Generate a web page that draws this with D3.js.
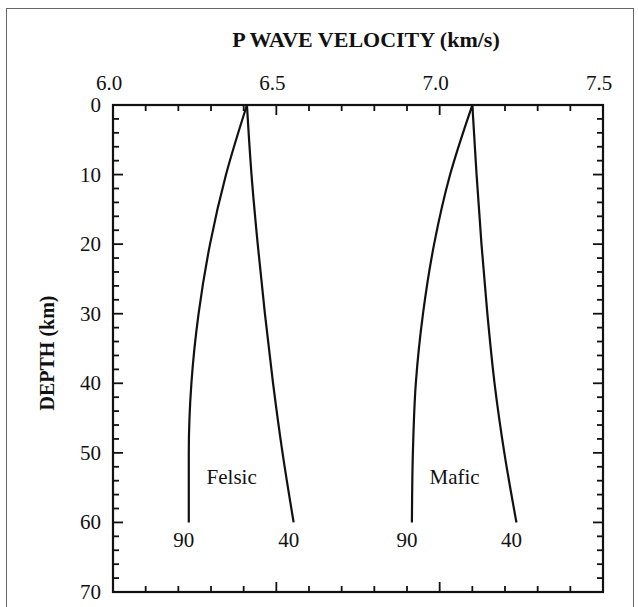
<!DOCTYPE html>
<html>
<head>
<meta charset="utf-8">
<script src="https://cdn.jsdelivr.net/npm/d3@7"></script>
<style>
  html, body { margin: 0; padding: 0; background: #fff; }
  svg { display: block; }
  text { font-family: "Liberation Serif", "DejaVu Serif", serif; fill: #111; }
</style>
</head>
<body>
<svg id="chart" width="638" height="607"></svg>
<script>
// ---- data ----
const depths   = [0, 10, 20, 30, 40, 50, 60];
const felsic90 = [6.41, 6.346, 6.297, 6.262, 6.240, 6.232, 6.232];
const felsic40 = [6.41, 6.424, 6.443, 6.465, 6.490, 6.519, 6.553];
const mafic90  = [7.10, 7.032, 6.983, 6.949, 6.927, 6.918, 6.915];
const mafic40  = [7.10, 7.113, 7.128, 7.146, 7.168, 7.198, 7.235];
const seriesNames  = ["Felsic 90", "Felsic 40", "Mafic 90", "Mafic 40"];
const seriesValues = [felsic90, felsic40, mafic90, mafic40];
const endLabels    = ["90", "40", "90", "40"];
const groupLabels  = ["Felsic", "Mafic"];
const xTickLabels  = ["6.0", "6.5", "7.0", "7.5"];
const yTickLabels  = ["0", "10", "20", "30", "40", "50", "60", "70"];

// ---- layout ----
const svg = d3.select("#chart");
const m = { left: 113, top: 105, right: 603, bottom: 592 };

const x = d3.scaleLinear().domain([6.0, 7.5]).range([m.left, m.right]);
const y = d3.scaleLinear().domain([0, 70]).range([m.top, m.bottom]);

// outer frame
svg.append("rect").attr("x", 6.5).attr("y", 8.5).attr("width", 627).attr("height", 620)
  .attr("fill", "none").attr("stroke", "#666").attr("stroke-width", 1);

// plot box
svg.append("rect").attr("x", m.left).attr("y", m.top)
  .attr("width", m.right - m.left).attr("height", m.bottom - m.top)
  .attr("fill", "none").attr("stroke", "#111").attr("stroke-width", 2.2);

const xMinor = d3.range(0, 16).map(i => 6.0 + i * 0.1);
const yMinor = d3.range(0, 36).map(i => i * 2);
const isMajorX = v => Math.abs(v * 2 - Math.round(v * 2)) < 1e-6;
const isMajorY = v => v % 10 === 0;

const ticks = svg.append("g").attr("stroke", "#111").attr("stroke-width", 1.8);
xMinor.forEach(v => {
  const len = isMajorX(v) ? 10 : 6;
  ticks.append("line").attr("x1", x(v)).attr("x2", x(v)).attr("y1", m.top).attr("y2", m.top + len);
  ticks.append("line").attr("x1", x(v)).attr("x2", x(v)).attr("y1", m.bottom).attr("y2", m.bottom - len);
});
yMinor.forEach(v => {
  const len = isMajorY(v) ? 10 : 6;
  ticks.append("line").attr("y1", y(v)).attr("y2", y(v)).attr("x1", m.left).attr("x2", m.left + len);
  ticks.append("line").attr("y1", y(v)).attr("y2", y(v)).attr("x1", m.right).attr("x2", m.right - len);
});

// top tick labels
xTickLabels.forEach(t => {
  svg.append("text").attr("x", x(+t) - 4).attr("y", 90)
    .attr("text-anchor", "middle").attr("font-size", 21).text(t);
});
// left tick labels
yTickLabels.forEach(t => {
  svg.append("text").attr("x", 101).attr("y", y(+t) + 7)
    .attr("text-anchor", "end").attr("font-size", 21).text(t);
});

// titles
svg.append("text").attr("x", 366).attr("y", 47).attr("text-anchor", "middle")
  .attr("font-size", 22).attr("font-weight", "bold").text("P WAVE VELOCITY (km/s)");
svg.append("text").attr("transform", "translate(54,353) rotate(-90)").attr("text-anchor", "middle")
  .attr("font-size", 20).attr("font-weight", "bold").text("DEPTH (km)");

// curves
const line = d3.line().x(d => x(d[0])).y(d => y(d[1])).curve(d3.curveMonotoneY);
seriesValues.forEach((vals, i) => {
  const pts = vals.map((v, j) => [v, depths[j]]);
  svg.append("path").datum(pts).attr("d", line)
    .attr("fill", "none").attr("stroke", "#111").attr("stroke-width", 2.2)
    .attr("class", "series").attr("data-name", seriesNames[i]);
  const last = pts[pts.length - 1];
  svg.append("text").attr("x", x(last[0]) - 5).attr("y", y(last[1]) + 25)
    .attr("text-anchor", "middle").attr("font-size", 21).text(endLabels[i]);
});

// group labels
[[felsic90, felsic40], [mafic90, mafic40]].forEach((pair, i) => {
  const mid = (pair[0][5] + pair[1][5]) / 2;
  svg.append("text").attr("x", x(mid) - 4).attr("y", y(52) + 17)
    .attr("text-anchor", "middle").attr("font-size", 21).text(groupLabels[i]);
});
</script>
</body>
</html>
